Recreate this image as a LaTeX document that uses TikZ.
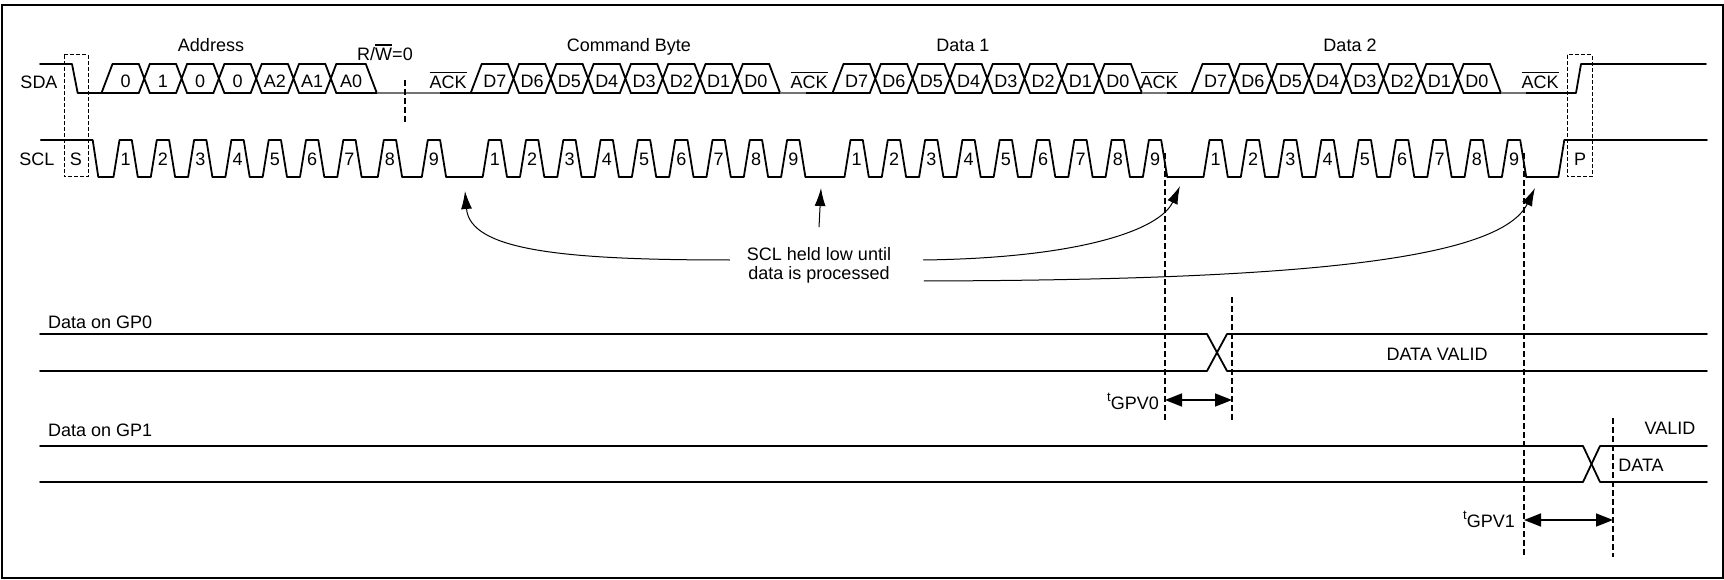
\documentclass[tikz,border=0pt]{standalone}
\usepackage{fontspec}
\setmainfont{Liberation Sans}
\usetikzlibrary{arrows.meta}
\usetikzlibrary{positioning}

\newcommand{\ovbar}[1]{\vbox{\hrule height 1.4pt\kern 3pt\hbox{#1}}}
\newcommand{\tsup}{\raisebox{8pt}{\fontsize{13pt}{14pt}\selectfont t}}

\tikzset{
  sig/.style={line width=1.8pt, line cap=round, line join=round},
  ackline/.style={line width=1.3pt, black!55},
  marker/.style={line width=1.5pt, dash pattern=on 6pt off 3pt},
  framebox/.style={line width=1pt, dash pattern=on 4pt off 2pt},
  lbl/.style={font=\fontsize{18pt}{21pt}\selectfont, inner sep=0pt},
  bitlbl/.style={font=\fontsize{18pt}{21pt}\selectfont, inner sep=0pt},
  curarr/.style={line width=1pt, -{Latex[length=18pt,width=11pt]}},
  dimarr/.style={line width=1.6pt, {Triangle[length=17pt,width=13pt]}-{Triangle[length=17pt,width=13pt]}},
}

\begin{document}
\begin{tikzpicture}[x=1pt,y=-1pt]
	\useasboundingbox (0,0) rectangle (1724,580);
	\draw[line width=2pt] (1.5,5.5) rectangle (1722.5,578);
	% clock pulses, rising edge of each
	\def\sclA{113.5,150.8,188.1,225.4,262.7,300,337.3,377.8,421.8}
	\def\sclB{482.7,520,557.3,594.6,631.9,669.2,706.5,743.8,781.1}
	\def\sclC{844.5,881.8,919.1,956.4,993.7,1031,1068.3,1105.6,1142.9}
	\def\sclD{1203.5,1240.8,1278.1,1315.4,1352.7,1390,1427.3,1464.6,1501.9}
	\edef\sclall{\sclA,\sclB,\sclC,\sclD}
	\node[lbl] (sda) at (39,82){SDA};
	\node[lbl] (scl) at (37,159){SCL};
	\draw[sig] (40.7,140)--(92.7,140)--(98.3,177)
		\foreach \r in \sclall {--(\r,177)--({\r+6},140)--({\r+18.3},140)--({\r+24.3},177)}
		--(1558.3,177)--(1564.3,140)--(1707,140);
	\foreach \r [count=\k] in \sclA \node[bitlbl] (sa\k) at ({\r+12.2},159){\k};
	\foreach \r [count=\k] in \sclB \node[bitlbl] (sb\k) at ({\r+12.2},159){\k};
	\foreach \r [count=\k] in \sclC \node[bitlbl] (sc\k) at ({\r+12.2},159){\k};
	\foreach \r [count=\k] in \sclD \node[bitlbl] (sd\k) at ({\r+12.2},159){\k};
	% data line
	\foreach \s/\e/\b [count=\k] in {107/144.3/0,144.3/181.6/1,181.6/218.9/0,218.9/256.2/0,256.2/293.5/A2,293.5/330.8/A1,330.8/371.3/A0,
		476.2/513.5/D7,513.5/550.8/D6,550.8/588.1/D5,588.1/625.4/D4,625.4/662.7/D3,662.7/700/D2,700/737.3/D1,737.3/774.6/D0,
		838/875.3/D7,875.3/912.6/D6,912.6/949.9/D5,949.9/987.2/D4,987.2/1024.5/D3,1024.5/1061.8/D2,1061.8/1099.1/D1,1099.1/1136.4/D0,
		1197/1234.3/D7,1234.3/1271.6/D6,1271.6/1308.9/D5,1308.9/1346.2/D4,1346.2/1383.5/D3,1383.5/1420.8/D2,1420.8/1458.1/D1,1458.1/1495.4/D0}{
		\draw[sig] ({\s+5.5},64)--({\e-5.5},64) ({\s+5.5},93)--({\e-5.5},93);
		\node[bitlbl] (bit\k) at ({(\s+\e)/2},81){\b};
	}
	\foreach \c in {144.3,181.6,218.9,256.2,293.5,330.8,
		513.5,550.8,588.1,625.4,662.7,700,737.3,
		875.3,912.6,949.9,987.2,1024.5,1061.8,1099.1,
		1234.3,1271.6,1308.9,1346.2,1383.5,1420.8,1458.1}
		\draw[sig] ({\c-5.5},64)--({\c+5.5},93) ({\c-5.5},93)--({\c+5.5},64);
	\foreach \u/\v in {107/371.3,476.2/774.6,838/1136.4,1197/1495.4}
		\draw[sig] ({\u-5.5},93)--({\u+5.5},64) ({\v-5.5},64)--({\v+5.5},93);
	\draw[sig] (40,64)--(72,64)--(77.7,93)--(112.5,93)
		(365.8,93)--(377,93) (440,93)--(481.7,93)
		(769.1,93)--(780,93) (806,93)--(843.5,93)
		(1130.9,93)--(1142,93) (1167,93)--(1202.5,93)
		(1489.9,93)--(1501,93) (1526,93)--(1576,93)--(1581,64)--(1706,64);
	\draw[ackline] (377,93)--(440,93) (780,93)--(806,93) (1142,93)--(1167,93) (1501,93)--(1526,93);
	% start and stop
	\draw[framebox] (64,55) rectangle (88,177);
	\node[lbl] (start) at (76,159){S};
	\draw[framebox] (1567,55) rectangle (1592,177);
	\node[lbl] (stop) at (1580,159){P};
	% titles
	\node[lbl,anchor=base] (addr) at (211,52){Address};
	\node[lbl,anchor=base] (cmd) at (629,52){Command Byte};
	\node[lbl,anchor=base] (data1) at (963,52){Data 1};
	\node[lbl,anchor=base] (data2) at (1350,52){Data 2};
	\node[lbl,anchor=base] (rw) at (385,61){R/\ovbar{W}=0};
	\draw[marker] (405,80)--(405,122);
	\foreach \x [count=\k] in {448,809,1159,1540} \node[lbl,anchor=base] (ack\k) at (\x,88.5){\ovbar{ACK}};
	% SCL held low
	\node[lbl] (hold1) at (819,254){SCL held low until};
	\node[lbl] (hold2) at (819,275){data is processed};
	\coordinate (lowA) at (465,191);
	\coordinate (lowB) at (821,188);
	\coordinate (lowC) at (1180,186);
	\coordinate (lowD) at (1535,188);
	\draw[curarr] ([xshift=-17pt,yshift=-6pt]hold1.west) .. controls (560,260) and (470,250) .. (lowA);
	\draw[curarr] ([yshift=20pt]hold1.north)--(lowB);
	\draw[curarr] ([xshift=32pt,yshift=-6pt]hold1.east) .. controls (1080,258) and (1160,230) .. (lowC);
	\draw[curarr] ([xshift=34pt,yshift=-6pt]hold2.east) .. controls (1300,280) and (1500,260) .. (lowD);
	% outputs
	\node[lbl,anchor=west] (gp0) at (48,322){Data on GP0};
	\draw[sig] (40,334)--(1207,334)--(1227,371)--(1707,371);
	\draw[sig] (40,371)--(1207,371)--(1227,334)--(1707,334);
	\node[lbl] (valid0) at (1437,354){DATA VALID};
	\node[lbl,anchor=west] (gp1) at (48,430){Data on GP1};
	\draw[sig] (40,446)--(1583,446)--(1600,482)--(1707,482);
	\draw[sig] (40,482)--(1583,482)--(1600,446)--(1707,446);
	\node[lbl] (valid1) at (1670,428){VALID};
	\node[lbl] (dataw) at (1641,465){DATA};
	\draw[marker] (1165,153)--(1165,422);
	\draw[marker] (1232,297)--(1232,420);
	\draw[marker] (1524,153)--(1524,557);
	\draw[marker] (1613,418)--(1613,557);
	\coordinate (g0a) at (1165,400);
	\coordinate (g0b) at (1232,400);
	\coordinate (g1a) at (1524,520);
	\coordinate (g1b) at (1613,520);
	\draw[dimarr] (g0a)--(g0b);
	\draw[dimarr] (g1a)--(g1b);
	\node[lbl,anchor=base east] (tgpv0) at (1159,409){\tsup GPV0};
	\node[lbl,anchor=base east] (tgpv1) at (1515,527){\tsup GPV1};
\end{tikzpicture}
\end{document}
